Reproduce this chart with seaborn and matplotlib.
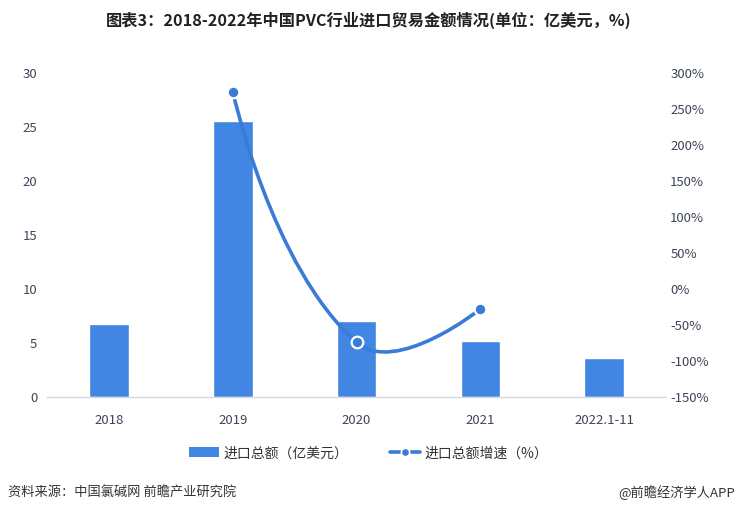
import matplotlib
matplotlib.use("Agg")
import numpy as np
import pandas as pd
import matplotlib.pyplot as plt
import seaborn as sns
from matplotlib.path import Path
from matplotlib.patches import PathPatch
from matplotlib.lines import Line2D
from matplotlib.patches import Rectangle

# data
years = ["2018", "2019", "2020", "2021", "2022.1-11"]
import_total = [6.8, 25.6, 7.0, 5.2, 3.6]          # 亿美元
growth_years = ["2019", "2020", "2021"]
growth_rate = [274, -74, -28]                      # %
left_ticks = [0, 5, 10, 15, 20, 25, 30]
right_ticks = [-150, -100, -50, 0, 50, 100, 150, 200, 250, 300]

BAR_COLOR = "#4186e2"
LINE_COLOR = "#3a7bd8"
TEXT_COLOR = "#3d4658"


def smooth_path(ax, xs, ys, smooth=0.5):
    # echarts-like bezier smoothing, control points from neighbouring points
    pts = np.column_stack([xs, ys]).astype(float)
    disp = ax.transData.transform(pts)
    n = len(pts)
    cp_prev = pts.copy()
    cp_next = pts.copy()
    for i in range(1, n - 1):
        v = pts[i + 1] - pts[i - 1]
        d0 = np.hypot(*(disp[i] - disp[i - 1]))
        d1 = np.hypot(*(disp[i + 1] - disp[i]))
        s = d0 + d1
        cp_prev[i] = pts[i] - v * smooth * d0 / s
        cp_next[i] = pts[i] + v * smooth * d1 / s
    verts = [pts[0]]
    codes = [Path.MOVETO]
    for i in range(n - 1):
        verts += [cp_next[i], cp_prev[i + 1], pts[i + 1]]
        codes += [Path.CURVE4] * 3
    return Path(verts, codes)


def main():
    sns.set_style("white")
    plt.rcParams["font.family"] = ["Noto Sans CJK SC", "DejaVu Sans"]

    df = pd.DataFrame({"year": years, "total": import_total})

    fig = plt.figure(figsize=(7.37, 5.15), dpi=100)
    ax = fig.add_axes([0.0638, 0.2291, 0.8399, 0.6292])

    sns.barplot(data=df, x="year", y="total", color=BAR_COLOR, width=0.32,
                saturation=1, ax=ax)
    ax.set_xlim(-0.5, len(years) - 0.5)
    ax.set_ylim(0, 30)
    ax.set_yticks(left_ticks)
    ax.set_xlabel("")
    ax.set_ylabel("")
    ax.tick_params(axis="both", length=0, labelsize=9.5, labelcolor=TEXT_COLOR)
    ax.tick_params(axis="x", pad=12)
    ax.tick_params(axis="y", pad=7)
    for side in ["top", "right", "left"]:
        ax.spines[side].set_visible(False)
    ax.spines["bottom"].set_color("#d5d8de")
    ax.spines["bottom"].set_linewidth(1)

    ax2 = ax.twinx()
    ax2.set_ylim(-150, 300)
    ax2.set_yticks(right_ticks)
    ax2.set_yticklabels([f"{t}%" for t in right_ticks])
    ax2.tick_params(axis="y", length=0, labelsize=9.5, labelcolor=TEXT_COLOR, pad=3)
    for side in ["top", "right", "left", "bottom"]:
        ax2.spines[side].set_visible(False)

    x_pos = [years.index(y) for y in growth_years]
    path = smooth_path(ax2, x_pos, growth_rate)
    ax2.add_patch(PathPatch(path, facecolor="none", edgecolor=LINE_COLOR,
                            linewidth=2.6, capstyle="round", zorder=3))
    sns.scatterplot(x=x_pos, y=growth_rate, ax=ax2, color=LINE_COLOR, s=70,
                    edgecolor="white", linewidth=1.6, zorder=4)

    # title
    fig.text(0.5, 0.961, "图表3：2018-2022年中国PVC行业进口贸易金额情况(单位：亿美元，%)",
             ha="center", va="center", fontsize=11.7, fontweight="bold", color="#222222")

    # legend
    handles = [
        Rectangle((0, 0), 1, 1, facecolor=BAR_COLOR, edgecolor="none"),
        Line2D([0], [0], color=LINE_COLOR, linewidth=2.6, marker="o", markersize=6,
               markerfacecolor=LINE_COLOR, markeredgecolor="white", markeredgewidth=1.2),
    ]
    fig.legend(handles, ["进口总额（亿美元）", "进口总额增速（%）"], loc="center",
               bbox_to_anchor=(0.5, 0.12), ncol=2, frameon=False, fontsize=10,
               handlelength=2.2, handleheight=0.7, columnspacing=3.0,
               handletextpad=0.3, labelcolor="#333333")

    # source lines
    fig.text(0.011, 0.043, "资料来源：中国氯碱网 前瞻产业研究院", ha="left", va="center",
             fontsize=9.5, color="#333333")
    fig.text(0.997, 0.043, "@前瞻经济学人APP", ha="right", va="center",
             fontsize=9.5, color="#333333")

    fig.savefig("out.png", dpi=100)


if __name__ == "__main__":
    main()
